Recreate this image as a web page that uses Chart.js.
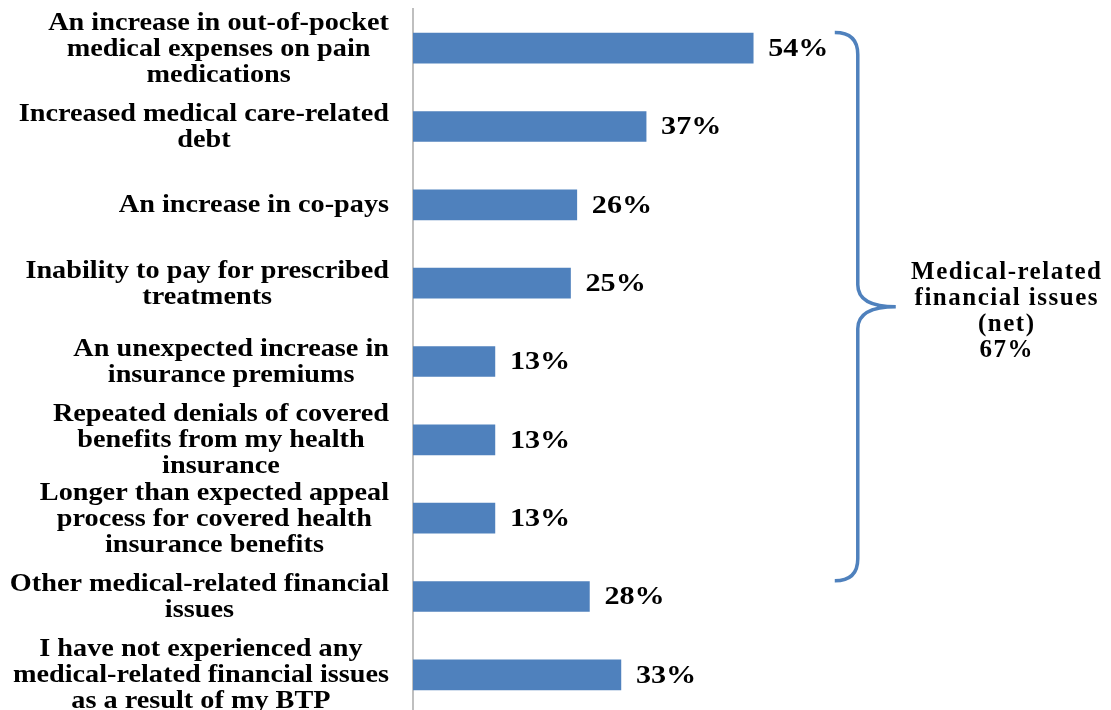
<!DOCTYPE html>
<html>
<head>
<meta charset="utf-8">
<script src="https://cdn.jsdelivr.net/npm/chart.js@4"></script>
<style>
  html, body { margin: 0; padding: 0; background: #fff; overflow: hidden; }
  #wrap { width: 1111px; height: 714px; position: relative; }
</style>
</head>
<body>
<div id="wrap"><canvas id="chart"></canvas></div>
<script>
// data
const categories = [
  ["An increase in out-of-pocket", "medical expenses on pain", "medications"],
  ["Increased medical care-related", "debt"],
  ["An increase in co-pays"],
  ["Inability to pay for prescribed", "treatments"],
  ["An unexpected increase in", "insurance premiums"],
  ["Repeated denials of covered", "benefits from my health", "insurance"],
  ["Longer than expected appeal", "process for covered health", "insurance benefits"],
  ["Other medical-related financial", "issues"],
  ["I have not experienced any", "medical-related financial issues", "as a result of my BTP"],
];
const values = [54, 37, 26, 25, 13, 13, 13, 28, 33];
const valueLabels = ["54%", "37%", "26%", "25%", "13%", "13%", "13%", "28%", "33%"];
const netLines = ["Medical-related", "financial issues", "(net)", "67%"];
const netFirst = 0;
const netLast = 6;

const BLUE = "#4F81BD";
const FONT = "'Liberation Serif', 'Times New Roman', serif";

// draws the left labels, value labels and the brace
const annotations = {
  id: "annotations",
  afterDraw(chart) {
    const ctx = chart.ctx;
    const yScale = chart.scales.y;
    const xScale = chart.scales.x;
    const area = chart.chartArea;

    // category labels: block right-aligned, lines centered in block
    const sx = 1.13;
    const lineH = 26;
    ctx.save();
    ctx.fillStyle = "#000";
    ctx.font = "bold 25px " + FONT;
    ctx.textBaseline = "middle";
    ctx.textAlign = "center";
    const right = area.left - 24;
    categories.forEach((lines, i) => {
      const maxW = Math.max(...lines.map(l => ctx.measureText(l).width)) * sx;
      const cx = right - maxW / 2;
      const y0 = yScale.getPixelForValue(i) - (lines.length - 1) * lineH / 2 + 1;
      lines.forEach((l, j) => {
        ctx.save();
        ctx.scale(sx, 1);
        ctx.fillText(l, cx / sx, y0 + j * lineH);
        ctx.restore();
      });
    });
    ctx.restore();

    // value labels
    const meta = chart.getDatasetMeta(0);
    const vx = 1.16;
    ctx.save();
    ctx.fillStyle = "#000";
    ctx.font = "bold 26px " + FONT;
    ctx.textBaseline = "middle";
    ctx.textAlign = "left";
    meta.data.forEach((bar, i) => {
      ctx.save();
      ctx.scale(vx, 1);
      ctx.fillText(valueLabels[i], (bar.x + 15) / vx, bar.y + 1);
      ctx.restore();
    });
    ctx.restore();

    // brace
    const top = yScale.getPixelForValue(netFirst - 0.2);
    const bottom = yScale.getPixelForValue(netLast + 0.8);
    const mid = (top + bottom) / 2;
    const xv = xScale.getPixelForValue(70.6);
    const x0 = xv - 23;
    const tip = xv + 38;
    const r = 22;
    ctx.save();
    ctx.strokeStyle = BLUE;
    ctx.lineWidth = 3.5;
    ctx.beginPath();
    ctx.moveTo(x0, top);
    ctx.quadraticCurveTo(xv, top, xv, top + r);
    ctx.lineTo(xv, mid - r);
    ctx.quadraticCurveTo(xv, mid, tip, mid);
    ctx.quadraticCurveTo(xv, mid, xv, mid + r);
    ctx.lineTo(xv, bottom - r);
    ctx.quadraticCurveTo(xv, bottom, x0, bottom);
    ctx.stroke();
    ctx.restore();

    // net text
    ctx.save();
    ctx.fillStyle = "#000";
    ctx.font = "bold 25px " + FONT;
    ctx.letterSpacing = "1.5px";
    ctx.textAlign = "center";
    ctx.textBaseline = "middle";
    const tx = tip + 111;
    const ty0 = mid + 5 - (netLines.length - 1) * 26 / 2;
    netLines.forEach((l, j) => ctx.fillText(l, tx, ty0 + j * 26));
    ctx.restore();
  }
};

new Chart(document.getElementById("chart"), {
  type: "bar",
  data: {
    labels: categories,
    datasets: [{
      data: values,
      backgroundColor: BLUE,
      borderWidth: 0,
      barThickness: 30,
    }],
  },
  options: {
    indexAxis: "y",
    responsive: true,
    maintainAspectRatio: false,
    animation: false,
    layout: { padding: { top: 9, bottom: 0, left: 0, right: 5 } },
    plugins: {
      legend: { display: false },
      tooltip: { enabled: false },
    },
    scales: {
      x: {
        display: false,
        min: 0,
        max: 110,
      },
      y: {
        grid: { display: false, drawTicks: false },
        border: { display: true, color: "#BFBFBF", width: 2 },
        ticks: { display: false },
        afterFit(scale) {
          scale.width = 413;
        },
      },
    },
  },
  plugins: [annotations],
});
</script>
</body>
</html>
